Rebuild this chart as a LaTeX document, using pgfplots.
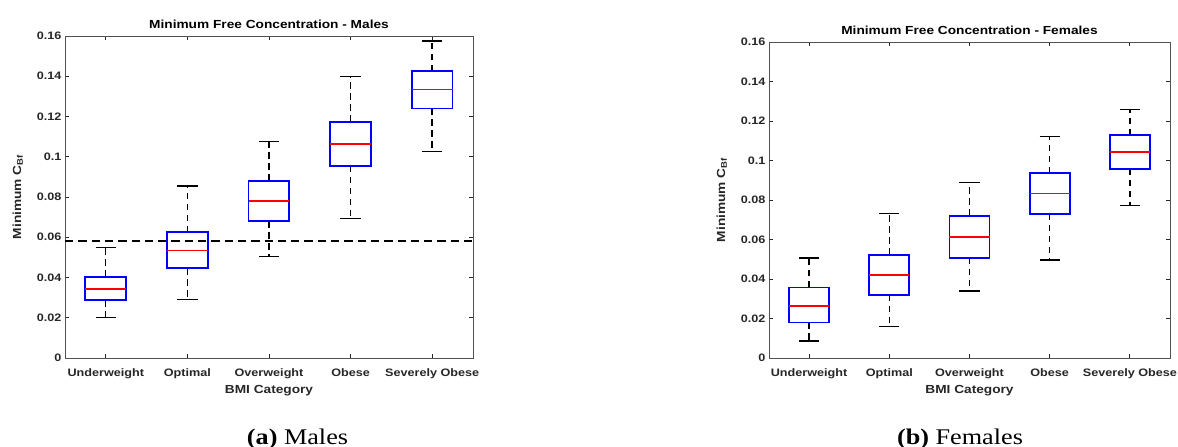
\documentclass[border=0pt]{standalone}
\usepackage{fontspec}
\setmainfont[FakeStretch=1.17]{Liberation Sans}
\newfontfamily\capfont[FakeStretch=1.17]{Liberation Serif}
\usepackage{pgfplots}
\pgfplotsset{compat=1.18}
\definecolor{axgray}{RGB}{38,38,38}
\definecolor{mblue}{RGB}{0,0,255}
\definecolor{mred}{RGB}{255,0,0}
\pgfplotsset{
  mbox/.style={
    scale only axis,
    xmin=0.5, xmax=5.5, ymin=0, ymax=0.16,
    xtick={1,2,3,4,5},
    xticklabels={Underweight,Optimal,Overweight,Obese,Severely Obese},
    ytick={0,0.02,0.04,0.06,0.08,0.1,0.12,0.14,0.16},
    scaled y ticks=false,
    yticklabel style={/pgf/number format/.cd, fixed, precision=2, assume math mode=true},
    xticklabel style={anchor=base, yshift=-19bp},
    tick align=inside, tick pos=both,
    major tick length=4bp,
    axis line style={draw=axgray!80, line width=0.9bp},
    every tick/.style={draw=axgray, line width=0.9bp},
    tick label style={font=\fontsize{10.8bp}{12bp}\selectfont\bfseries, text=axgray},
    every axis title/.style={font=\fontsize{11.7bp}{14bp}\selectfont\bfseries, text=black, at={(axis description cs:0.5,1)}, anchor=base, yshift=7.7bp},
    every axis y label/.style={font=\fontsize{11.7bp}{14bp}\selectfont\bfseries, text=axgray, at={(axis description cs:0,0.5)}, rotate=90, anchor=center, yshift=47.3bp},
    every axis x label/.style={font=\fontsize{11.7bp}{14bp}\selectfont\bfseries, text=axgray, at={(axis description cs:0.5,0)}, anchor=base, yshift=-36bp},
    xlabel={BMI Category},
    ylabel={Minimum C\textsubscript{Bf}},
    bx/.style={draw=mblue, line width=1.8bp, line join=miter, no markers},
    med/.style={draw=mred, line width=1.5bp, no markers},
    wsk/.style={draw=black, line width=1.4bp, dash pattern=on 6.5bp off 4.5bp, no markers},
    cap/.style={draw=black, line width=1.4bp, solid, no markers},
  }
}
\begin{document}
\begin{tikzpicture}
\path[use as bounding box] (0,0) rectangle (1178bp,447bp);
% ---------------- Males ----------------
\begin{axis}[mbox, at={(65bp,89bp)}, anchor=south west, width=408bp, height=322bp,
  title={Minimum Free Concentration - Males}]
% Underweight: lw 0.0202 q1 0.0287 med 0.0344 q3 0.0404 uw 0.0550
\addplot[wsk] coordinates {(1,0.0404) (1,0.0550)};
\addplot[wsk] coordinates {(1,0.0287) (1,0.0202)};
\addplot[cap] coordinates {(0.875,0.0550) (1.125,0.0550)};
\addplot[cap] coordinates {(0.875,0.0202) (1.125,0.0202)};
\addplot[bx] coordinates {(0.75,0.0287) (1.25,0.0287) (1.25,0.0404) (0.75,0.0404)} --cycle;
\addplot[med] coordinates {(0.75,0.0344) (1.25,0.0344)};
% Optimal: lw 0.0290 q1 0.0447 med 0.0533 q3 0.0626 uw 0.0855
\addplot[wsk] coordinates {(2,0.0626) (2,0.0855)};
\addplot[wsk] coordinates {(2,0.0447) (2,0.0290)};
\addplot[cap] coordinates {(1.875,0.0855) (2.125,0.0855)};
\addplot[cap] coordinates {(1.875,0.0290) (2.125,0.0290)};
\addplot[bx] coordinates {(1.75,0.0447) (2.25,0.0447) (2.25,0.0626) (1.75,0.0626)} --cycle;
\addplot[med] coordinates {(1.75,0.0533) (2.25,0.0533)};
% Overweight: lw 0.0503 q1 0.0680 med 0.0780 q3 0.0880 uw 0.1075
\addplot[wsk] coordinates {(3,0.0880) (3,0.1075)};
\addplot[wsk] coordinates {(3,0.0680) (3,0.0503)};
\addplot[cap] coordinates {(2.875,0.1075) (3.125,0.1075)};
\addplot[cap] coordinates {(2.875,0.0503) (3.125,0.0503)};
\addplot[bx] coordinates {(2.75,0.0680) (3.25,0.0680) (3.25,0.0880) (2.75,0.0880)} --cycle;
\addplot[med] coordinates {(2.75,0.0780) (3.25,0.0780)};
% Obese: lw 0.0692 q1 0.0956 med 0.1063 q3 0.1173 uw 0.1400
\addplot[wsk] coordinates {(4,0.1173) (4,0.1400)};
\addplot[wsk] coordinates {(4,0.0956) (4,0.0692)};
\addplot[cap] coordinates {(3.875,0.1400) (4.125,0.1400)};
\addplot[cap] coordinates {(3.875,0.0692) (4.125,0.0692)};
\addplot[bx] coordinates {(3.75,0.0956) (4.25,0.0956) (4.25,0.1173) (3.75,0.1173)} --cycle;
\addplot[med] coordinates {(3.75,0.1063) (4.25,0.1063)};
% Severely Obese: lw 0.1025 q1 0.1240 med 0.1333 q3 0.1425 uw 0.1575
\addplot[wsk] coordinates {(5,0.1425) (5,0.1575)};
\addplot[wsk] coordinates {(5,0.1240) (5,0.1025)};
\addplot[cap] coordinates {(4.875,0.1575) (5.125,0.1575)};
\addplot[cap] coordinates {(4.875,0.1025) (5.125,0.1025)};
\addplot[bx] coordinates {(4.75,0.1240) (5.25,0.1240) (5.25,0.1425) (4.75,0.1425)} --cycle;
\addplot[med] coordinates {(4.75,0.1333) (5.25,0.1333)};
% threshold
\addplot[black, line width=1.9bp, dash pattern=on 8.3bp off 5bp, no markers] coordinates {(0.5,0.058) (5.5,0.058)};
\end{axis}
% ---------------- Females ----------------
\begin{axis}[mbox, at={(769bp,89bp)}, anchor=south west, width=401bp, height=316bp,
  title={Minimum Free Concentration - Females}]
% Underweight: lw 0.0087 q1 0.0180 med 0.0264 q3 0.0357 uw 0.0507
\addplot[wsk] coordinates {(1,0.0357) (1,0.0507)};
\addplot[wsk] coordinates {(1,0.0180) (1,0.0087)};
\addplot[cap] coordinates {(0.875,0.0507) (1.125,0.0507)};
\addplot[cap] coordinates {(0.875,0.0087) (1.125,0.0087)};
\addplot[bx] coordinates {(0.75,0.0180) (1.25,0.0180) (1.25,0.0357) (0.75,0.0357)} --cycle;
\addplot[med] coordinates {(0.75,0.0264) (1.25,0.0264)};
% Optimal: lw 0.0158 q1 0.0320 med 0.0419 q3 0.0522 uw 0.0733
\addplot[wsk] coordinates {(2,0.0522) (2,0.0733)};
\addplot[wsk] coordinates {(2,0.0320) (2,0.0158)};
\addplot[cap] coordinates {(1.875,0.0733) (2.125,0.0733)};
\addplot[cap] coordinates {(1.875,0.0158) (2.125,0.0158)};
\addplot[bx] coordinates {(1.75,0.0320) (2.25,0.0320) (2.25,0.0522) (1.75,0.0522)} --cycle;
\addplot[med] coordinates {(1.75,0.0419) (2.25,0.0419)};
% Overweight: lw 0.0340 q1 0.0508 med 0.0613 q3 0.0720 uw 0.0889
\addplot[wsk] coordinates {(3,0.0720) (3,0.0889)};
\addplot[wsk] coordinates {(3,0.0508) (3,0.0340)};
\addplot[cap] coordinates {(2.875,0.0889) (3.125,0.0889)};
\addplot[cap] coordinates {(2.875,0.0340) (3.125,0.0340)};
\addplot[bx] coordinates {(2.75,0.0508) (3.25,0.0508) (3.25,0.0720) (2.75,0.0720)} --cycle;
\addplot[med] coordinates {(2.75,0.0613) (3.25,0.0613)};
% Obese: lw 0.0497 q1 0.0731 med 0.0834 q3 0.0935 uw 0.1123
\addplot[wsk] coordinates {(4,0.0935) (4,0.1123)};
\addplot[wsk] coordinates {(4,0.0731) (4,0.0497)};
\addplot[cap] coordinates {(3.875,0.1123) (4.125,0.1123)};
\addplot[cap] coordinates {(3.875,0.0497) (4.125,0.0497)};
\addplot[bx] coordinates {(3.75,0.0731) (4.25,0.0731) (4.25,0.0935) (3.75,0.0935)} --cycle;
\addplot[med] coordinates {(3.75,0.0834) (4.25,0.0834)};
% Severely Obese: lw 0.0773 q1 0.0958 med 0.1044 q3 0.1128 uw 0.1258
\addplot[wsk] coordinates {(5,0.1128) (5,0.1258)};
\addplot[wsk] coordinates {(5,0.0958) (5,0.0773)};
\addplot[cap] coordinates {(4.875,0.1258) (5.125,0.1258)};
\addplot[cap] coordinates {(4.875,0.0773) (5.125,0.0773)};
\addplot[bx] coordinates {(4.75,0.0958) (5.25,0.0958) (5.25,0.1128) (4.75,0.1128)} --cycle;
\addplot[med] coordinates {(4.75,0.1044) (5.25,0.1044)};
\end{axis}
\node[font=\capfont\fontsize{22.4bp}{26bp}\selectfont, anchor=base, inner sep=0pt] at (297.5bp,3bp) {\textbf{(a)} Males};
\node[font=\capfont\fontsize{22.4bp}{26bp}\selectfont, anchor=base, inner sep=0pt] at (960bp,3bp) {\textbf{(b)} Females};
\end{tikzpicture}
\end{document}
